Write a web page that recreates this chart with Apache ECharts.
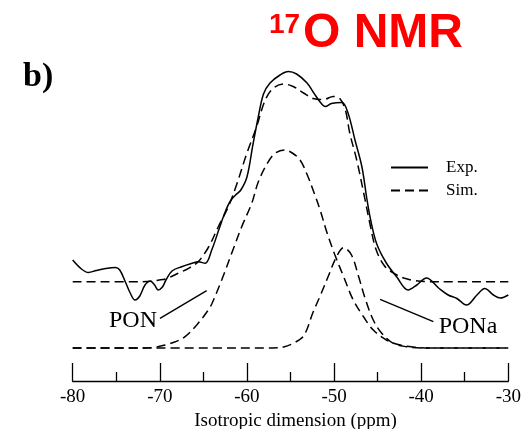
<!DOCTYPE html>
<html>
<head>
<meta charset="utf-8">
<script src="https://cdn.jsdelivr.net/npm/echarts@6/dist/echarts.min.js"></script>
<style>
  html, body { margin: 0; padding: 0; background: #fff; }
  #chart { width: 523px; height: 429px; }
</style>
</head>
<body>
<div id="chart"></div>
<script>
// 17O NMR isotropic projection: experimental trace, total simulation and its two components.
// Points are [shift (ppm), intensity (arb. units)].
var expData = [
  [-80, 88], [-79, 79], [-78.2, 75.5], [-77.3, 77.5], [-76.5, 79], [-75.1, 80.5], [-74.6, 78],
  [-74.0, 67], [-73.4, 55], [-72.85, 48], [-72.3, 52], [-71.7, 63], [-71.1, 67], [-70.6, 63],
  [-70.2, 58], [-69.7, 61], [-69.3, 68], [-68.6, 77], [-67.5, 81.3], [-66.3, 84.7], [-65.6, 86.3],
  [-64.8, 84.7], [-64.0, 99], [-63.2, 119], [-62.5, 136], [-61.9, 147], [-61.3, 153], [-60.7, 158],
  [-60.0, 171], [-59.3, 204], [-58.7, 231], [-58.1, 254], [-57.35, 265], [-56.2, 273], [-55.25, 276.5],
  [-54.3, 274], [-53.1, 265], [-52.4, 256], [-51.6, 246], [-51.0, 241.5], [-50.3, 244.5], [-49.1, 245.5],
  [-48.4, 235], [-47.6, 208], [-46.8, 181], [-46.25, 150], [-45.8, 128], [-45.1, 104], [-44.0, 85],
  [-42.8, 71], [-41.5, 58], [-40.5, 63], [-39.4, 70], [-38.0, 60], [-36.9, 53], [-35.9, 49.5],
  [-34.8, 43], [-33.6, 53], [-32.7, 59.5], [-31.7, 53], [-30.9, 50], [-30, 53]
];
var simData = [
  [-80, 66.3], [-72, 66.3], [-71, 66.8], [-70.2, 67.8], [-69.2, 69.5], [-67.9, 74.7], [-66.7, 79.7],
  [-65.6, 86.3], [-64.4, 101], [-63.3, 121], [-62.1, 142], [-61.2, 163], [-60.0, 195], [-58.9, 221],
  [-57.9, 248], [-57.0, 259.5], [-55.8, 264], [-54.7, 261.5], [-53.5, 255], [-52.4, 249.5],
  [-51.2, 248.5], [-50.1, 251.5], [-49.3, 249], [-48.7, 238], [-48.2, 215], [-47.4, 188],
  [-46.6, 155], [-45.9, 125], [-45.2, 99], [-44.2, 82], [-43.0, 74], [-42.0, 70], [-41.1, 68],
  [-39.5, 66.5], [-38, 66.3], [-30, 66.3]
];
var ponData = [
  [-80, 0], [-72, 0], [-70.5, 0.8], [-69.4, 3], [-68.3, 6], [-67.1, 11.3], [-65.6, 24.7],
  [-64.4, 38.5], [-64.0, 44.7], [-62.9, 68], [-61.75, 94.7], [-60.6, 121.3], [-59.45, 144.7],
  [-58.7, 166], [-57.7, 184], [-56.8, 194.5], [-55.7, 198], [-54.8, 195], [-53.9, 188],
  [-53.0, 171.5], [-52.2, 153], [-51.6, 138], [-50.8, 115], [-49.9, 93], [-48.9, 71.3],
  [-47.8, 48], [-46.6, 31], [-45.5, 18], [-44.0, 8], [-42.4, 3], [-40.9, 1], [-39, 0], [-30, 0]
];
var ponaData = [
  [-80, 0], [-57, 0], [-55.8, 1], [-54.7, 4.7], [-53.5, 12], [-52.4, 36], [-51.6, 52],
  [-50.7, 71], [-49.7, 91.5], [-48.9, 100.3], [-48.0, 93], [-47.2, 72], [-46.45, 50],
  [-45.5, 28], [-44.5, 14.5], [-43.2, 4.7], [-41.7, 1.3], [-40, 0], [-30, 0]
];
// Leader lines from the component labels to their curves, in data coordinates.
var ponLeader = [[-69.98, 29.7], [-64.62, 57.3]];
var ponaLeader = [[-44.72, 48.7], [-38.6, 26.3]];
var xTicks = { min: -80, max: -30, step: 10 };

var SERIF = '"Liberation Serif", "Times New Roman", serif';
var SANS = '"Liberation Sans", Arial, sans-serif';
var DASH = [9, 5];

var chart = echarts.init(document.getElementById('chart'), null, { renderer: 'canvas' });

function curve(name, data, dashed) {
  return {
    name: name,
    type: 'line',
    data: data,
    symbol: 'none',
    smooth: 0.35,
    silent: true,
    color: '#000',
    z: dashed ? 2 : 3,
    lineStyle: { color: '#000', width: 1.5, type: dashed ? DASH : 'solid' }
  };
}

function leader(seg) {
  return {
    silent: true,
    symbol: 'none',
    label: { show: false },
    lineStyle: { color: '#000', width: 1.4, type: 'solid' },
    data: [[{ coord: seg[0] }, { coord: seg[1] }]]
  };
}

var ponSeries = curve('PON', ponData, true);
ponSeries.markLine = leader(ponLeader);
var ponaSeries = curve('PONa', ponaData, true);
ponaSeries.markLine = leader(ponaLeader);

chart.setOption({
  animation: false,
  backgroundColor: '#fff',
  grid: { left: 72.7, right: 14.7, top: 40, bottom: 48, outerBoundsMode: 'none' },
  xAxis: {
    type: 'value',
    min: xTicks.min,
    max: xTicks.max,
    interval: xTicks.step,
    name: 'Isotropic dimension (ppm)',
    nameLocation: 'middle',
    nameGap: 29,
    nameTextStyle: { fontFamily: SERIF, fontSize: 19, color: '#000', padding: [0, 0, 0, 10] },
    axisLine: { onZero: false, lineStyle: { color: '#000', width: 1.3 } },
    axisTick: { inside: true, length: 18, lineStyle: { color: '#000', width: 1.3 } },
    minorTick: { show: true, splitNumber: 2, length: 9, lineStyle: { color: '#000', width: 1.3 } },
    axisLabel: { fontFamily: SERIF, fontSize: 19, color: '#000', margin: 7 },
    splitLine: { show: false }
  },
  yAxis: { type: 'value', min: -33, max: 308, show: false },
  legend: {
    data: ['Exp.', 'Sim.'],
    orient: 'vertical',
    left: 390,
    top: 159,
    padding: 0,
    itemWidth: 37,
    itemHeight: 12,
    itemGap: 6,
    selectedMode: false,
    itemStyle: { opacity: 0 },
    textStyle: { fontFamily: SERIF, fontSize: 17, color: '#000', lineHeight: 17, padding: [0, 0, 0, 13] }
  },
  series: [
    curve('Exp.', expData, false),
    curve('Sim.', simData, true),
    ponSeries,
    ponaSeries
  ],
  graphic: [
    { type: 'text', left: 269, top: 11, style: { text: '17', font: 'bold 28px ' + SANS, fill: '#ff0000' } },
    { type: 'text', x: 303, y: 33.4, style: { text: 'O NMR', font: 'bold 48px ' + SANS, fill: '#ff0000', textVerticalAlign: 'middle' } },
    { type: 'text', x: 23, y: 77.5, style: { text: 'b)', font: 'bold 34px ' + SERIF, fill: '#000', textVerticalAlign: 'middle' } },
    { type: 'text', x: 133, y: 321, style: { text: 'PON', font: '24px ' + SERIF, fill: '#000', textAlign: 'center', textVerticalAlign: 'middle' } },
    { type: 'text', x: 468, y: 327, style: { text: 'PONa', font: '24px ' + SERIF, fill: '#000', textAlign: 'center', textVerticalAlign: 'middle' } }
  ]
});
</script>
</body>
</html>
